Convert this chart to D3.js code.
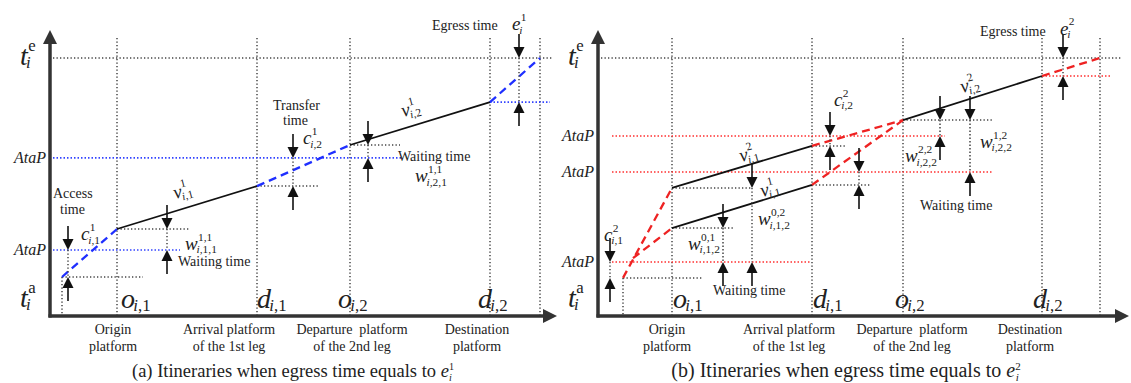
<!DOCTYPE html>
<html>
<head>
<meta charset="utf-8">
<script src="https://cdn.jsdelivr.net/npm/d3@7"></script>
<style>
  body { margin: 0; background: #fff; }
  svg text { fill: #222; white-space: pre; }
</style>
</head>
<body>
<svg id="chart" width="1131" height="383"></svg>
<script>
// units: x 0..100 over 500px right of the y axis, t 0..100 over 300px above the x axis
const stationNames = [["o", "i,1"], ["d", "i,1"], ["o", "i,2"], ["d", "i,2"]];
const platformNames = [["Origin", "platform"], ["Arrival platform", "of the 1st leg"],
                       ["Departure  platform", "of the 2nd leg"], ["Destination", "platform"]];

// panel (a)
const stationsA = [13.4, 41.4, 60, 88];
const exitA = 98;
const itinA = [[2.4, 13], [13.4, 29], [41.4, 43.3], [60, 57], [88, 71.3], [98, 86]];
const atapA = [[52.7, 0.6, 70.6, true], [22, 0.6, 26, true], [71.3, 88, 100, false]]; // [t, x0, x1, labelled]
const refA = [[13, 2.4, 18.6], [29, 13.4, 28], [43.3, 41.4, 53.6], [57, 60, 70]];
const arrowsA = [[3.6, 22, 13], [23.4, 29, 22], [48.6, 52.7, 43.3], [63.6, 57, 52.7], [93.8, 86, 71.3]];
const textA = [["Access", 0.6, 39.3], ["time", 2, 34], ["Waiting time", 25.6, 16.7], ["Transfer", 44.6, 68.6],
               ["time", 46.6, 63.6], ["Waiting time", 69.6, 51.7], ["Egress time", 76.4, 95.3]];
const mathA = [["c", "1", "i,1", 6.2, 25.3, 0], ["v", "1", "i,1", 25, 39, -15], ["w", "1,1", "i,1,1", 27, 22, 0],
               ["c", "1", "i,2", 50.6, 57.3, 0], ["v", "1", "i,2", 70.6, 66.3, -15], ["w", "1,1", "i,2,1", 73, 44.6, 0],
               ["e", "1", "i", 92.4, 95.3, 0]];

// panel (b)
const stationsB = [14.8, 42.8, 61, 88.8];
const exitB = 100.4;
const itinB2 = [[5, 12.7], [14.8, 42.7], [42.8, 56.7], [61, 65.3], [88.8, 80], [100.4, 86]];
const itinB1 = [[7, 19.3], [14.8, 29.3], [42.8, 43.7], [61, 65.3]];
const atapB = [[60, 2.8, 69.4, true], [48, 2.8, 79, true], [18, 2.8, 42.6, true], [80, 88.8, 102.8, false]];
const refB = [[12.7, 5, 21], [42.7, 14.8, 30.8], [29.3, 14.8, 27], [56.7, 42.8, 49.8], [43.7, 42.8, 54.4], [65.3, 61, 79]];
const arrowsB = [[2.4, 18, 12.7], [25, 29.3, 18], [30.8, 42.7, 18], [46.4, 60, 56.7], [52.2, 48, 43.7],
                 [68.4, 65.3, 60], [74.4, 65.3, 48], [93, 86, 80]];
const textB = [["Waiting time", 23, 7], ["Waiting time", 64.4, 35.3], ["Egress time", 76.4, 93.3]];
const mathB = [["c", "2", "i,1", 1.2, 25, 0], ["w", "0,1", "i,1,2", 18, 22, 0], ["w", "0,2", "i,1,2", 32, 30.3, 0],
               ["v", "2", "i,1", 28.6, 51.3, -15], ["v", "1", "i,1", 32.8, 39.7, -15], ["c", "2", "i,2", 47.2, 70, 0],
               ["v", "2", "i,2", 72.8, 74.3, -15], ["w", "2,2", "i,2,2", 61.4, 51.3, 0], ["w", "1,2", "i,2,2", 76.4, 56, 0],
               ["e", "2", "i", 92.4, 93.7, 0]];

const FONT = '"Liberation Serif", "Times New Roman", serif';
const svg = d3.select("#chart").style("font-family", FONT);

function mathLabel(g, px, py, base, sup, sub, fs, rot, subDy) {
  const t = g.append("g").attr("transform", `translate(${px},${py})` + (rot ? ` rotate(${rot})` : ""));
  const b = t.append("text").style("font-family", FONT).attr("font-size", fs).attr("font-style", "italic").text(base);
  const w = b.node().getComputedTextLength();
  if (sup) t.append("text").style("font-family", FONT).attr("x", w + fs * 0.02).attr("y", -fs * 0.5)
    .attr("font-size", fs * 0.6).text(sup);
  if (sub) {
    const s = t.append("text").style("font-family", FONT).attr("x", w - fs * 0.06).attr("y", fs * (subDy || 0.18))
      .attr("font-size", fs * 0.6);
    sub.split("").forEach(ch => s.append("tspan").attr("font-style", /[a-z]/.test(ch) ? "italic" : null).text(ch));
  }
}

function drawPanel(p) {
  const x = d3.scaleLinear().domain([0, 100]).range([p.left, p.left + 500]);
  const y = d3.scaleLinear().domain([0, 100]).range([316, 16]);
  const g = svg.append("g");
  const dotted = sel => sel.attr("stroke", "#444").attr("stroke-width", 1.5).attr("stroke-dasharray", "1.3 2.2");

  // platform verticals + low vertical at entry
  g.selectAll(".vl").data(p.stations.concat([p.exit])).join("line")
    .attr("x1", d => x(d)).attr("x2", d => x(d)).attr("y1", y(92.7)).attr("y2", y(0)).call(dotted);
  g.append("line").attr("x1", x(p.path[0][0])).attr("x2", x(p.path[0][0]))
    .attr("y1", y(p.path[0][1])).attr("y2", y(0)).call(dotted);
  // egress time level
  g.append("line").attr("x1", x(0.6)).attr("x2", x(p.teEnd)).attr("y1", y(86)).attr("y2", y(86)).call(dotted);
  // waiting reference levels
  g.selectAll(".ref").data(p.refs).join("line")
    .attr("x1", d => x(d[1])).attr("x2", d => x(d[2])).attr("y1", d => y(d[0])).attr("y2", d => y(d[0])).call(dotted);
  // AtaP levels
  g.selectAll(".atap").data(p.atap).join("line")
    .attr("x1", d => x(d[1])).attr("x2", d => x(d[2])).attr("y1", d => y(d[0])).attr("y2", d => y(d[0]))
    .attr("stroke", p.dotColor).attr("stroke-width", 1.6).attr("stroke-dasharray", "1.5 2");
  g.selectAll(".atapL").data(p.atap.filter(d => d[3])).join("text")
    .style("font-family", FONT)
    .attr("x", p.left - 4).attr("y", d => y(d[0]) + 5).attr("text-anchor", "end")
    .attr("font-size", 16).attr("font-style", "italic").text("AtaP");

  // itineraries: walking legs dashed, riding legs solid
  p.itins.forEach(it => {
    g.selectAll(null).data(d3.pairs(it)).join("path")
      .attr("d", d => d3.line().x(q => x(q[0])).y(q => y(q[1]))(d))
      .attr("fill", "none")
      .attr("stroke", (d, i) => i % 2 === 0 ? p.dashColor : "#111")
      .attr("stroke-width", (d, i) => i % 2 === 0 ? 2.3 : 1.8)
      .attr("stroke-dasharray", (d, i) => i % 2 === 0 ? "8 5" : null);
  });

  // arrow pairs
  const L = 24, H = 11, hw = 5.5;
  p.arrows.forEach(a => {
    const ax = x(a[0]), yt = y(a[1]), yb = y(a[2]);
    g.append("line").attr("x1", ax).attr("x2", ax).attr("y1", yt).attr("y2", yb).call(dotted);
    g.append("line").attr("x1", ax).attr("x2", ax).attr("y1", yt - L).attr("y2", yt - H)
      .attr("stroke", "#111").attr("stroke-width", 1.6);
    g.append("path").attr("d", `M${ax - hw},${yt - H}L${ax + hw},${yt - H}L${ax},${yt}Z`).attr("fill", "#111");
    g.append("line").attr("x1", ax).attr("x2", ax).attr("y1", yb + L).attr("y2", yb + H)
      .attr("stroke", "#111").attr("stroke-width", 1.6);
    g.append("path").attr("d", `M${ax - hw},${yb + H}L${ax + hw},${yb + H}L${ax},${yb}Z`).attr("fill", "#111");
  });

  // axes
  const ax0 = x(0), ay0 = y(0), top = y(95.3), right = x(p.xEnd);
  g.append("line").attr("x1", ax0).attr("x2", ax0).attr("y1", ay0 + 1.5).attr("y2", top + 12)
    .attr("stroke", "#333").attr("stroke-width", 3.5);
  g.append("path").attr("d", `M${ax0 - 7},${top + 14}L${ax0 + 7},${top + 14}L${ax0},${top}Z`).attr("fill", "#333");
  g.append("line").attr("x1", ax0 - 1.5).attr("x2", right - 12).attr("y1", ay0).attr("y2", ay0)
    .attr("stroke", "#333").attr("stroke-width", 3.5);
  g.append("path").attr("d", `M${right - 14},${ay0 - 7}L${right - 14},${ay0 + 7}L${right},${ay0}Z`).attr("fill", "#333");

  // time labels on y axis
  mathLabel(g, ax0 - 30, y(83.7), "t", "e", "i", 28, 0, 0.12);
  mathLabel(g, ax0 - 30, y(3), "t", "a", "i", 28, 0, 0.12);

  // station labels and platform names
  p.stations.forEach((s, i) => {
    mathLabel(g, x(s) + p.labelOff[i], y(2.7), stationNames[i][0], null, stationNames[i][1], 28, 0, 0.1);
    platformNames[i].forEach((ln, j) => {
      g.append("text").style("font-family", FONT).attr("x", x(s) + p.nameOff[i]).attr("y", 334 + j * 17)
        .attr("text-anchor", "middle").attr("font-size", 14).text(ln);
    });
  });

  p.texts.forEach(t => g.append("text").style("font-family", FONT)
    .attr("x", x(t[1])).attr("y", y(t[2])).attr("font-size", 14).text(t[0]));
  p.maths.forEach(m => mathLabel(g, x(m[3]), y(m[4]), m[0], m[1], m[2], 19, m[5]));

  // caption
  const cap = g.append("text").style("font-family", FONT).attr("x", p.capX).attr("y", 377)
    .attr("text-anchor", "middle").attr("font-size", p.capSize);
  cap.append("tspan").text(p.caption + " ");
  cap.append("tspan").attr("font-style", "italic").text("e");
  cap.append("tspan").attr("font-size", p.capSize * 0.55).attr("dy", -7).text(p.capSup);
  cap.append("tspan").attr("font-size", p.capSize * 0.55).attr("font-style", "italic").attr("dx", -5).attr("dy", 11).text("i");
}

drawPanel({
  left: 50, stations: stationsA, exit: exitA, path: itinA, itins: [itinA], teEnd: 100.6, xEnd: 101.4,
  refs: refA, atap: atapA, arrows: arrowsA, texts: textA, maths: mathA,
  dotColor: "#3344ff", dashColor: "#1f2fff",
  labelOff: [4, 0, -12, -12], nameOff: [-4, -28, 2, -13],
  caption: "(a) Itineraries when egress time equals to", capSup: "1", capX: 293, capSize: 18.5
});
drawPanel({
  left: 598, stations: stationsB, exit: exitB, path: itinB2, itins: [itinB2, itinB1], teEnd: 104.8, xEnd: 106.2,
  refs: refB, atap: atapB, arrows: arrowsB, texts: textB, maths: mathB,
  dotColor: "#ff3030", dashColor: "#ee2222",
  labelOff: [1, 1, -8, -9], nameOff: [-5, -23, 9, -12],
  caption: "(b) Itineraries when egress time equals to", capSup: "2", capX: 846, capSize: 20
});
</script>
</body>
</html>
